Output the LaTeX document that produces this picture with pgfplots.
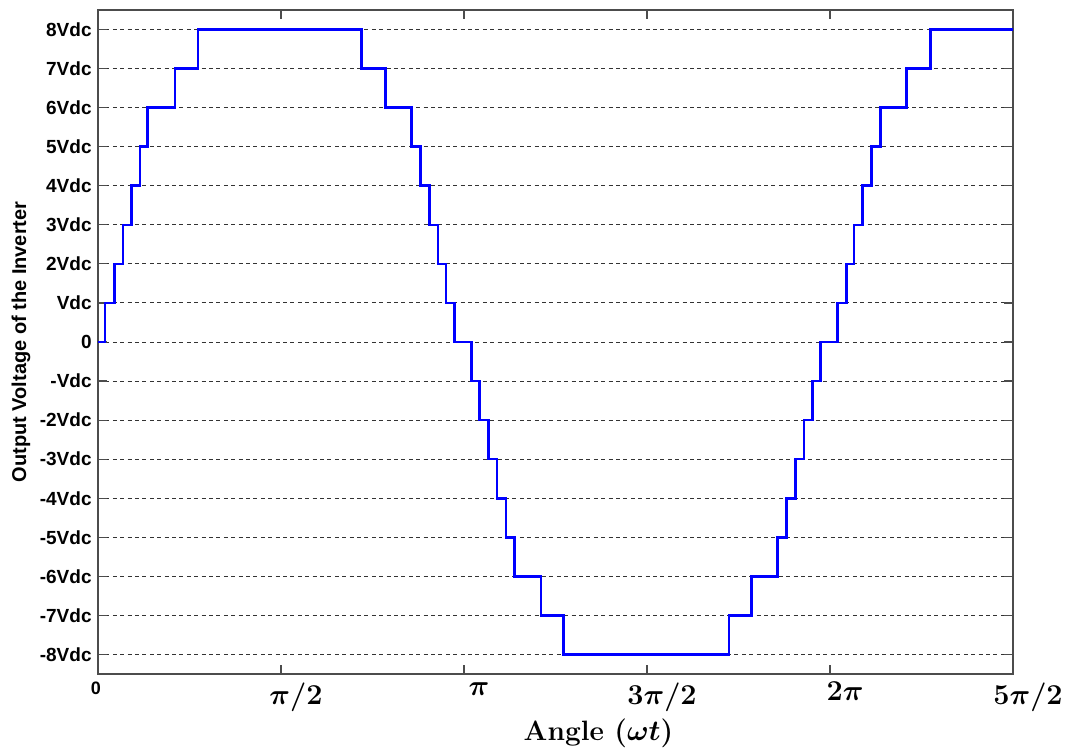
\documentclass[border=0pt]{standalone}
\usepackage{pgfplots}
\pgfplotsset{compat=1.18}
\usepackage{fontspec}
\newfontfamily\arial{Liberation Sans}
\begin{document}
\begin{tikzpicture}
\begin{axis}[
  scale only axis, width=457.5pt, height=332pt,
  xmin=0, xmax=450, ymin=-8.5, ymax=8.5,
  xtick={0,90,180,270,360,450},
  xticklabels={{\hspace*{-2pt}{\arial\bfseries\fontsize{9}{9}\selectfont 0}},
               {\hspace*{15pt}$\pi/2$},
               {\hspace*{15pt}$\pi$},
               {\hspace*{15pt}$3\pi/2$},
               {\hspace*{15pt}$2\pi$},
               {\hspace*{15pt}$5\pi/2$}},
  xticklabel style={font=\fontsize{14}{16}\selectfont\boldmath, anchor=north, inner sep=0pt, yshift=-4pt},
  ytick={-8,-7,-6,-5,-4,-3,-2,-1,0,1,2,3,4,5,6,7,8},
  yticklabels={-8Vdc,-7Vdc,-6Vdc,-5Vdc,-4Vdc,-3Vdc,-2Vdc,-Vdc,0,Vdc,2Vdc,3Vdc,4Vdc,5Vdc,6Vdc,7Vdc,8Vdc},
  yticklabel style={font=\arial\bfseries\fontsize{9.5}{10}\selectfont, anchor=east, inner sep=0pt, xshift=-3pt},
  tick align=inside, major tick length=4.5pt,
  ymajorgrids,
  grid style={dash pattern=on 2pt off 1.7pt, black!80, line width=0.5pt},
  axis line style={black!70, line width=0.6pt},
  tick style={black!70, line width=0.6pt},
  ylabel={Output Voltage of the Inverter},
  ylabel style={font=\arial\bfseries\fontsize{10}{11}\selectfont, at={(axis description cs:-0.0842,0.5)}, anchor=center},
  xlabel={Angle $(\omega t)$},
  xlabel style={font=\fontsize{14}{16}\selectfont\bfseries\boldmath, at={(axis description cs:0.5,0)}, anchor=center, xshift=21.5pt, yshift=-29.5pt},
]
\addplot[const plot, color={rgb,255:red,0;green,0;blue,255}, line width=1.3pt] coordinates {
(0,0) (3.44,1) (8.02,2) (12.30,3) (16.57,4) (20.66,5) (24.44,6) (37.87,7) (49.18,8)
(129.69,7) (141.39,6) (154.28,5) (158.51,4) (162.93,3) (167.21,2) (171.15,1) (175.23,0)
(183.79,-1) (187.52,-2) (191.95,-3) (196.23,-4) (200.66,-5) (204.74,-6) (217.87,-7) (228.84,-8)
(310.33,-7) (321.39,-6) (334.28,-5) (338.51,-4) (342.89,-3) (347.21,-2) (351.49,-1) (355.23,0)
(363.59,1) (368.21,2) (371.80,3) (376.08,4) (380.51,5) (384.74,6) (397.72,7) (409.33,8) (450,8)
};
\end{axis}
\pgfresetboundingbox
\path ([shift={(-49pt,-39.5pt)}]current axis.south west) rectangle ([shift={(30.5pt,5pt)}]current axis.north east);
\end{tikzpicture}
\end{document}
